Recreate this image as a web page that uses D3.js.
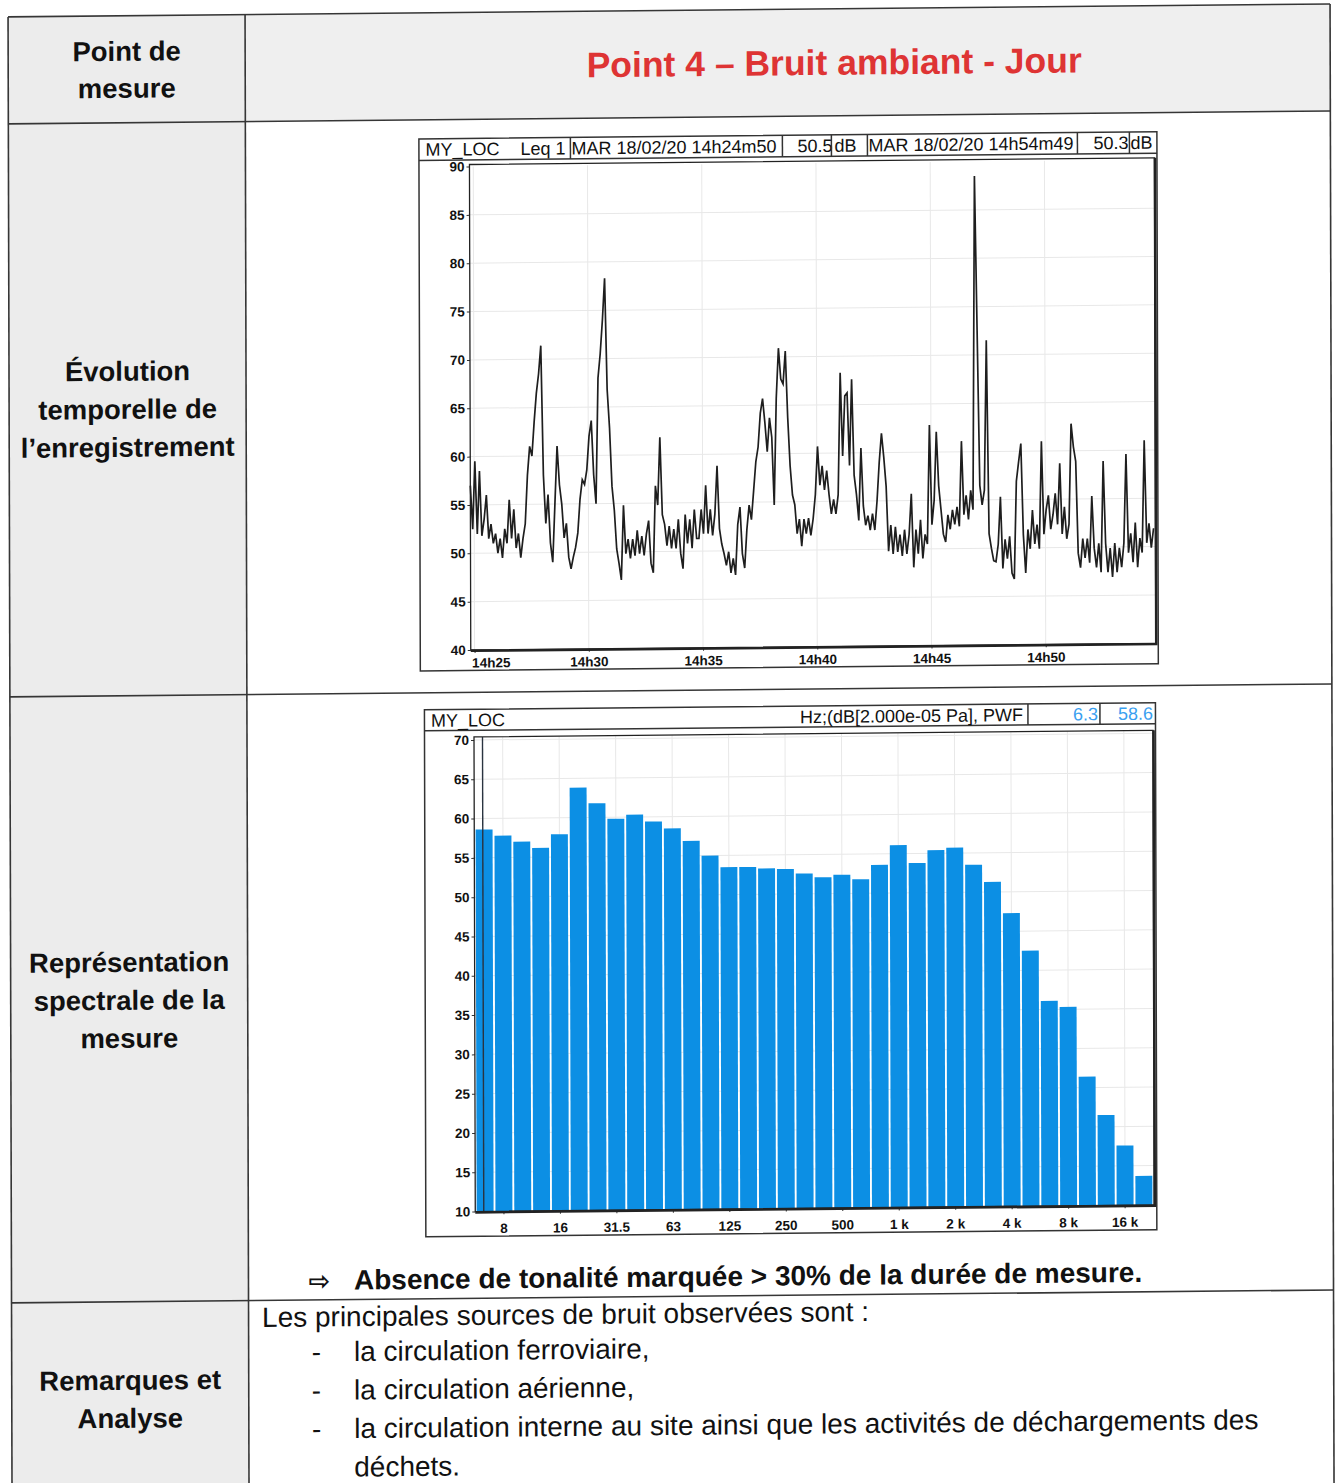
<!DOCTYPE html>
<html>
<head>
<meta charset="utf-8">
<script src="https://cdn.jsdelivr.net/npm/d3@7"></script>
<style>
  body { margin: 0; background: #fff; }
  text { font-family: "Liberation Sans", Arial, sans-serif; }
</style>
</head>
<body>
<svg id="page" width="1335" height="1483"></svg>
<script>
// ---- data ----
// Leq 1s trace, one value every 6 s from 14h24m50 (10 values = 1 minute per line)
var traceStart = new Date(2020, 1, 18, 14, 24, 50),
    traceEnd = new Date(2020, 1, 18, 14, 54, 49),
    sampleStep = 6;
var leqLevels = [
  57, 52.5, 59.5, 52, 58.5, 51.8, 53.5, 56, 51.5, 53,
  51, 52, 50, 51.5, 49.5, 52.5, 51, 55.5, 51.5, 54.5,
  50.5, 52, 49.5, 51.5, 53, 58, 61, 60, 63.5, 66.5,
  68.5, 71.4, 58, 53, 56, 51, 49, 55, 61, 57,
  55, 51.5, 53, 49.5, 48.3, 49.5, 50.5, 52, 55.5, 57.5,
  57, 58.5, 62, 63.6, 58, 55, 68, 70.5, 74, 78.3,
  66.8, 62.8, 56.8, 54.3, 50.3, 48.8, 47.1, 54.8, 49.8, 51.3,
  49.3, 51.3, 49.6, 52.2, 49.8, 51.6, 49.6, 51.8, 53.2, 48.8,
  47.8, 56.8, 54.8, 61.8, 53.8, 52.8, 50.6, 52.6, 50.3, 52.3,
  50.3, 53.3, 49.8, 48.2, 53.8, 50.8, 53.3, 50.3, 54.3, 51.3,
  51.3, 54.3, 51.8, 56.8, 51.8, 54.3, 51.6, 53.8, 58.8, 52.3,
  50.7, 49.7, 48.5, 49.9, 47.7, 49.2, 47.5, 52.7, 54.5, 49.7,
  48.2, 52.2, 54.7, 53.2, 56.2, 59.2, 60.7, 64.2, 65.7, 63.2,
  60.2, 63.7, 61.7, 54.7, 65.7, 70.9, 67.7, 67.2, 70.6, 63.7,
  58.7, 55.7, 54.7, 51.7, 53.2, 50.4, 53.2, 51.7, 53.3, 51.5,
  53.2, 55.7, 60.7, 56.7, 58.7, 56.2, 58.2, 55.7, 53.7, 55.2,
  53.7, 55.7, 68.3, 59.7, 65.9, 66.2, 58.7, 67.6, 57.7, 55.7,
  53.0, 60.5, 54.5, 52.5, 53.5, 52.0, 53.7, 52.0, 55.0, 59.0,
  62.0, 59.5, 56.5, 49.8, 52.5, 49.5, 52.3, 49.7, 51.5, 49.3,
  52.0, 49.5, 51.5, 55.7, 48.1, 52.0, 49.5, 53.0, 49.0, 51.5,
  50.5, 62.8, 52.5, 55.0, 62.1, 56.5, 54.0, 51.5, 50.7, 53.5,
  52.0, 54.0, 52.5, 54.3, 52.3, 61.1, 53.5, 55.5, 53.0, 56.0,
  54.0, 88.5, 72.5, 56.5, 54.5, 56.0, 71.5, 51.5, 50.0, 48.7,
  48.6, 50.4, 55.3, 47.9, 50.9, 48.9, 51.2, 47.4, 46.8, 56.9,
  58.9, 60.8, 51.4, 47.4, 51.9, 49.9, 53.9, 50.4, 52.4, 49.9,
  61.0, 51.4, 53.9, 55.4, 51.9, 53.4, 55.6, 52.4, 58.7, 51.4,
  54.2, 50.9, 52.4, 62.8, 60.4, 58.9, 49.4, 47.9, 50.9, 48.9,
  50.9, 48.4, 55.3, 49.9, 47.9, 50.4, 47.4, 58.9, 50.4, 47.4,
  49.9, 46.9, 50.4, 47.4, 49.9, 47.9, 50.4, 59.6, 49.4, 51.4,
  48.4, 52.5, 47.9, 50.9, 49.4, 61.0, 50.4, 52.4, 49.9, 51.9
];
var timeTickLabels = ["14h25", "14h30", "14h35", "14h40", "14h45", "14h50"];
var levelTicks = [40, 45, 50, 55, 60, 65, 70, 75, 80, 85, 90];

// third-octave spectrum
var spectrumBands = ["6.3", "8", "10", "12.5", "16", "20", "25", "31.5", "40", "50", "63", "80",
  "100", "125", "160", "200", "250", "315", "400", "500", "630", "800", "1k", "1.25k",
  "1.6k", "2k", "2.5k", "3.15k", "4k", "5k", "6.3k", "8k", "10k", "12.5k", "16k", "20k"];
var spectrumLevels = [58.6, 57.8, 57.0, 56.2, 57.9, 63.8, 61.8, 59.8, 60.3, 59.4, 58.5, 56.9,
  55.0, 53.5, 53.5, 53.3, 53.2, 52.6, 52.1, 52.4, 51.8, 53.6, 56.1, 53.8,
  55.4, 55.7, 53.5, 51.3, 47.3, 42.5, 36.1, 35.3, 26.4, 21.5, 17.6, 13.7];
var spectrumTickBands = ["8", "16", "31.5", "63", "125", "250", "500", "1k", "2k", "4k", "8k", "16k"];
var spectrumTickLabels = ["8", "16", "31.5", "63", "125", "250", "500", "1 k", "2 k", "4 k", "8 k", "16 k"];
var spectrumLevelTicks = [10, 15, 20, 25, 30, 35, 40, 45, 50, 55, 60, 65, 70];

// ---- page (scanned sheet is slightly skewed) ----
var svg = d3.select("#page");
var page = svg.append("g").attr("transform", "matrix(1,-0.0098,0.0027,1,0,0)");

var tableLeft = 8, tableRight = 1330, colX = 245, tableTop = 17,
    rowLines = [124, 697, 1303];
var lineCol = "#363636";

page.append("rect").attr("x", tableLeft).attr("y", tableTop)
  .attr("width", colX - tableLeft).attr("height", 1520).attr("fill", "#ececec");
page.append("rect").attr("x", colX).attr("y", tableTop)
  .attr("width", tableRight - colX).attr("height", rowLines[0] - tableTop).attr("fill", "#efefef");

[tableTop].concat(rowLines).forEach(function (y) {
  page.append("line").attr("x1", tableLeft).attr("x2", tableRight).attr("y1", y).attr("y2", y)
    .attr("stroke", lineCol).attr("stroke-width", 1.6);
});
[tableLeft, colX, tableRight].forEach(function (x) {
  page.append("line").attr("x1", x).attr("x2", x).attr("y1", tableTop).attr("y2", 1520)
    .attr("stroke", lineCol).attr("stroke-width", 1.6);
});

// left column headings
var leftHeads = [
  {t: "Point de", y: 62}, {t: "mesure", y: 99},
  {t: "Évolution", y: 382}, {t: "temporelle de", y: 420}, {t: "l’enregistrement", y: 458},
  {t: "Représentation", y: 973}, {t: "spectrale de la", y: 1011}, {t: "mesure", y: 1049},
  {t: "Remarques et", y: 1391}, {t: "Analyse", y: 1429}
];
page.selectAll(".lefthead").data(leftHeads).enter().append("text")
  .attr("class", "lefthead")
  .attr("x", 126.5).attr("y", function (d) { return d.y; })
  .attr("text-anchor", "middle").attr("font-size", 27.5).attr("font-weight", "bold")
  .attr("fill", "#111").text(function (d) { return d.t; });

page.append("text").attr("x", 834).attr("y", 83).attr("text-anchor", "middle")
  .attr("font-size", 35.5).attr("font-weight", "bold").attr("fill", "#de3434")
  .text("Point 4 – Bruit ambiant - Jour");

// ---- chart 1 : time history ----
var c1 = page.append("g");
var box1 = {x0: 418.5, x1: 1156.5, y0: 143, y1: 675, head: 164.5};
c1.append("rect").attr("x", box1.x0).attr("y", box1.y0)
  .attr("width", box1.x1 - box1.x0).attr("height", box1.y1 - box1.y0)
  .attr("fill", "#fff").attr("stroke", "#333").attr("stroke-width", 1.5);
c1.append("line").attr("x1", box1.x0).attr("x2", box1.x1).attr("y1", box1.head).attr("y2", box1.head)
  .attr("stroke", "#333").attr("stroke-width", 1.5);

var head1 = c1.append("g").attr("font-size", 18).attr("fill", "#111");
head1.append("text").attr("x", 425).attr("y", 160).text("MY_LOC");
head1.append("text").attr("x", 520).attr("y", 160).text("Leq 1");
head1.append("text").attr("x", 571).attr("y", 160).text("MAR 18/02/20 14h24m50");
head1.append("text").attr("x", 797).attr("y", 160).text("50.5");
head1.append("text").attr("x", 834).attr("y", 160).text("dB");
head1.append("text").attr("x", 868).attr("y", 160).text("MAR 18/02/20 14h54m49");
head1.append("text").attr("x", 1093).attr("y", 160).text("50.3");
head1.append("text").attr("x", 1130).attr("y", 160).text("dB");
[570, 782, 831, 867, 1077, 1129].forEach(function (x) {
  c1.append("line").attr("x1", x).attr("x2", x).attr("y1", box1.y0).attr("y2", box1.head)
    .attr("stroke", "#333").attr("stroke-width", 1.5);
});

var plot1 = {left: 469, right: 1154, top: 171.1, bottom: 654.6};
var xTime = d3.scaleTime().domain([traceStart, traceEnd]).range([plot1.left, plot1.right]);
var yLeq = d3.scaleLinear().domain([40, 90]).range([plot1.bottom, plot1.top]);
var parseTick = d3.timeParse("%Y-%m-%d %Hh%M");
var timeTicks = timeTickLabels.map(function (s) { return parseTick("2020-02-18 " + s); });

c1.selectAll(".hgrid").data(levelTicks.slice(1, -1)).enter().append("line")
  .attr("x1", plot1.left).attr("x2", plot1.right)
  .attr("y1", function (d) { return yLeq(d); }).attr("y2", function (d) { return yLeq(d); })
  .attr("stroke", "#e8e8e8").attr("stroke-width", 1);
c1.selectAll(".vgrid").data(timeTicks).enter().append("line")
  .attr("x1", function (d) { return xTime(d); }).attr("x2", function (d) { return xTime(d); })
  .attr("y1", plot1.top).attr("y2", plot1.bottom)
  .attr("stroke", "#e8e8e8").attr("stroke-width", 1);

var trace = leqLevels.map(function (v, i) {
  return {t: new Date(+traceStart + i * sampleStep * 1000), v: v};
});
c1.append("path").datum(trace)
  .attr("fill", "none").attr("stroke", "#1e1e1e").attr("stroke-width", 1.7)
  .attr("stroke-linejoin", "miter")
  .attr("d", d3.line().x(function (d) { return xTime(d.t); }).y(function (d) { return yLeq(d.v); }));

var yAxis1 = c1.append("g").attr("transform", "translate(" + plot1.left + ",0)")
  .call(d3.axisLeft(yLeq).tickValues(levelTicks).tickSize(3).tickPadding(2));
var xAxis1 = c1.append("g").attr("transform", "translate(0," + plot1.bottom + ")")
  .call(d3.axisBottom(xTime).tickValues(timeTicks).tickSize(3).tickPadding(5)
    .tickFormat(function (d, i) { return timeTickLabels[i]; }));
[yAxis1, xAxis1].forEach(function (a) {
  a.select(".domain").remove();
  a.selectAll("text").attr("font-size", 13.5).attr("font-weight", "bold").attr("fill", "#111")
    .style("font-family", "'Liberation Sans', Arial, sans-serif");
  a.selectAll("line").attr("stroke", "#333");
});
xAxis1.selectAll(".tick").filter(function (d, i) { return i === 0; })
  .select("text").attr("text-anchor", "start").attr("x", -3);

c1.append("rect").attr("x", plot1.left).attr("y", plot1.top - 2)
  .attr("width", plot1.right - plot1.left).attr("height", plot1.bottom - plot1.top + 2)
  .attr("fill", "none").attr("stroke", "#222").attr("stroke-width", 1.3);
c1.append("path")
  .attr("d", "M" + (plot1.right + 0.5) + "," + (plot1.top - 2) + "V" + (plot1.bottom + 0.8) + "H" + plot1.left)
  .attr("fill", "none").attr("stroke", "#222").attr("stroke-width", 2.6);

// ---- chart 2 : spectrum ----
var c2 = page.append("g");
var box2 = {x0: 422.5, x1: 1153.5, y0: 714, y1: 1241, head: 735};
c2.append("rect").attr("x", box2.x0).attr("y", box2.y0)
  .attr("width", box2.x1 - box2.x0).attr("height", box2.y1 - box2.y0)
  .attr("fill", "#fff").attr("stroke", "#333").attr("stroke-width", 1.5);
c2.append("line").attr("x1", box2.x0).attr("x2", box2.x1).attr("y1", box2.head).attr("y2", box2.head)
  .attr("stroke", "#333").attr("stroke-width", 1.5);
c2.append("clipPath").attr("id", "unitclip").append("rect")
  .attr("x", 700).attr("y", box2.y0).attr("width", 1025 - 700).attr("height", 22);
var head2 = c2.append("g").attr("font-size", 18).attr("fill", "#111");
head2.append("text").attr("x", 429).attr("y", 731).text("MY_LOC");
head2.append("text").attr("x", 798).attr("y", 731).attr("clip-path", "url(#unitclip)")
  .text("Hz;(dB[2.000e-05 Pa], PWF");
head2.append("text").attr("x", 1096).attr("y", 731).attr("text-anchor", "end")
  .attr("fill", "#3a9ff0").text("6.3");
head2.append("text").attr("x", 1151).attr("y", 731).attr("text-anchor", "end")
  .attr("fill", "#3a9ff0").text("58.6");
[1026, 1098].forEach(function (x) {
  c2.append("line").attr("x1", x).attr("x2", x).attr("y1", box2.y0).attr("y2", box2.head)
    .attr("stroke", "#333").attr("stroke-width", 1.5);
});

var plot2 = {left: 472, right: 1151, top: 744.6, bottom: 1216.2};
var xBand = d3.scaleBand().domain(spectrumBands).range([plot2.left + 1, plot2.right - 1.5])
  .paddingInner(0.1).paddingOuter(0.02);
var ySpec = d3.scaleLinear().domain([10, 70]).range([plot2.bottom, plot2.top]);

c2.selectAll(".hgrid").data(spectrumLevelTicks.slice(1)).enter().append("line")
  .attr("x1", plot2.left).attr("x2", plot2.right)
  .attr("y1", function (d) { return ySpec(d); }).attr("y2", function (d) { return ySpec(d); })
  .attr("stroke", "#e8e8e8").attr("stroke-width", 1);
c2.selectAll(".vgrid").data(spectrumTickBands).enter().append("line")
  .attr("x1", function (d) { return xBand(d) + xBand.bandwidth() / 2; })
  .attr("x2", function (d) { return xBand(d) + xBand.bandwidth() / 2; })
  .attr("y1", plot2.top - 3).attr("y2", plot2.bottom)
  .attr("stroke", "#e8e8e8").attr("stroke-width", 1);

c2.selectAll(".bar").data(spectrumLevels).enter().append("rect")
  .attr("class", "bar")
  .attr("x", function (d, i) { return xBand(spectrumBands[i]); })
  .attr("width", xBand.bandwidth())
  .attr("y", function (d) { return ySpec(d); })
  .attr("height", function (d) { return ySpec(10) - ySpec(d); })
  .attr("fill", "#0c8fe4");

// cursor on the first band
var cursorX = xBand(spectrumBands[0]) + xBand.bandwidth() * 0.42;
c2.append("line").attr("x1", cursorX).attr("x2", cursorX)
  .attr("y1", plot2.top - 3).attr("y2", plot2.bottom)
  .attr("stroke", "#2a3440").attr("stroke-width", 1.4);

var yAxis2 = c2.append("g").attr("transform", "translate(" + plot2.left + ",0)")
  .call(d3.axisLeft(ySpec).tickValues(spectrumLevelTicks).tickSize(3).tickPadding(2));
var xAxis2 = c2.append("g").attr("transform", "translate(0," + plot2.bottom + ")")
  .call(d3.axisBottom(xBand).tickValues(spectrumTickBands).tickSize(3).tickPadding(9)
    .tickFormat(function (d, i) { return spectrumTickLabels[i]; }));
[yAxis2, xAxis2].forEach(function (a) {
  a.select(".domain").remove();
  a.selectAll("text").attr("font-size", 13.5).attr("font-weight", "bold").attr("fill", "#111")
    .style("font-family", "'Liberation Sans', Arial, sans-serif");
  a.selectAll("line").attr("stroke", "#333");
});

c2.append("rect").attr("x", plot2.left).attr("y", plot2.top - 3)
  .attr("width", plot2.right - plot2.left).attr("height", plot2.bottom - plot2.top + 3)
  .attr("fill", "none").attr("stroke", "#222").attr("stroke-width", 1.3);
c2.append("path")
  .attr("d", "M" + (plot2.right + 0.5) + "," + (plot2.top - 3) + "V" + (plot2.bottom + 0.8) + "H" + plot2.left)
  .attr("fill", "none").attr("stroke", "#222").attr("stroke-width", 2.6);

// ---- text below the charts ----
page.append("text").attr("x", 305).attr("y", 1293).attr("font-size", 26).attr("font-weight", "bold")
  .attr("fill", "#111").style("font-family", "'DejaVu Sans', sans-serif").text("⇨");
page.append("text").attr("x", 350.5).attr("y", 1293).attr("font-size", 28).attr("font-weight", "bold")
  .attr("fill", "#111").text("Absence de tonalité marquée > 30% de la durée de mesure.");

page.append("text").attr("x", 258.5).attr("y", 1329.5).attr("font-size", 28)
  .attr("fill", "#111").text("Les principales sources de bruit observées sont :");
var remarks = [
  {t: "la circulation ferroviaire,", y: 1364.5, dash: true},
  {t: "la circulation aérienne,", y: 1403, dash: true},
  {t: "la circulation interne au site ainsi que les activités de déchargements des", y: 1441.5, dash: true},
  {t: "déchets.", y: 1480, dash: false}
];
page.selectAll(".remark").data(remarks).enter().append("text")
  .attr("class", "remark").attr("x", 350.3).attr("y", function (d) { return d.y; })
  .attr("font-size", 28).attr("fill", "#111").text(function (d) { return d.t; });
page.selectAll(".dash").data(remarks.filter(function (d) { return d.dash; })).enter().append("text")
  .attr("class", "dash").attr("x", 308).attr("y", function (d) { return d.y; })
  .attr("font-size", 28).attr("fill", "#111").text("-");
</script>
</body>
</html>
